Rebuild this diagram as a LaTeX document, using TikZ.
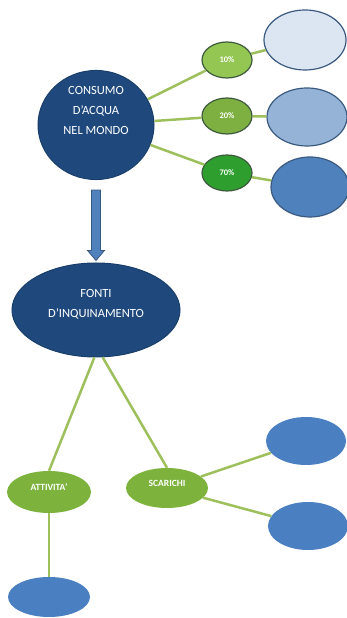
\documentclass[tikz,border=0pt]{standalone}
\usepackage{fontspec}
\setmainfont{Carlito}
\usepackage{tikz}
\usepackage{xcolor}
\usetikzlibrary{shapes.geometric, arrows, calc}
\definecolor{navy}{HTML}{1F497D}
\definecolor{navyline}{HTML}{1A3E6A}
\definecolor{pcta}{HTML}{93C653}
\definecolor{pctb}{HTML}{7DB040}
\definecolor{pctc}{HTML}{2E9F2E}
\definecolor{pctline}{HTML}{3E5A3E}
\definecolor{ovala}{HTML}{DCE6F2}
\definecolor{ovalb}{HTML}{95B3D7}
\definecolor{ovalc}{HTML}{4F81BD}
\definecolor{ovalline}{HTML}{3A5A80}
\definecolor{leafblue}{HTML}{4A7FC1}
\definecolor{grn}{HTML}{7DB33D}
\definecolor{grnline}{HTML}{9DC05C}
\tikzstyle{bigblue} = [ellipse, draw=navyline, line width=1pt, fill=navy, text=white, align=center, inner sep=0, font=\fontsize{12.5}{20}\selectfont]
\tikzstyle{pct} = [ellipse, draw=pctline, line width=1.2pt, minimum width=50pt, minimum height=36pt, inner sep=0, text=white, font=\bfseries\fontsize{8.5}{9}\selectfont]
\tikzstyle{oval} = [ellipse, draw=ovalline, line width=1.2pt, minimum width=80pt, minimum height=58pt]
\tikzstyle{leaf} = [ellipse, fill=leafblue, minimum width=80pt, minimum height=48pt]
\tikzstyle{grnbox} = [ellipse, fill=grn, inner sep=0, text=white, text depth=9pt, font=\bfseries\fontsize{9.5}{10}\selectfont]
\tikzstyle{line} = [draw, grnline, line width=2.5pt]
\tikzstyle{bigarrow} = [draw=ovalline, line width=0.8pt, fill=ovalc, line join=miter]

\begin{document}
\begin{tikzpicture}[x=1pt, y=1pt, node distance=131pt]
\useasboundingbox (0,0) rectangle (347,618);

\node [bigblue, minimum width=116pt, minimum height=94pt, text depth=29pt] (C) at (96,493) {CONSUMO\\D’ACQUA\\NEL MONDO};
\node [pct, fill=pcta, right of=C, yshift=65pt] (P1) {10\%};
\node [pct, fill=pctb, right of=C, yshift=9pt] (P2) {20\%};
\node [pct, fill=pctc, right of=C, yshift=-48pt] (P3) {70\%};
\node [oval, fill=ovala, minimum width=82pt, minimum height=60pt, node distance=78pt, right of=P1, yshift=20pt] (O1) {};
\node [oval, fill=ovalb, node distance=80pt, right of=P2, yshift=-1pt] (O2) {};
\node [oval, fill=ovalc, minimum width=78pt, minimum height=60pt, node distance=83pt, right of=P3, yshift=-14pt] (O3) {};

\node [bigblue, minimum width=168pt, minimum height=94pt, text depth=14pt, node distance=185pt, below of=C] (F) {FONTI\\D’INQUINAMENTO};
\node [grnbox, minimum width=84pt, minimum height=42pt, node distance=182pt, below of=F, xshift=-47pt] (A) {ATTIVITA’};
\node [grnbox, minimum width=82pt, minimum height=40pt, node distance=178pt, below of=F, xshift=71pt] (S) {SCARICHI};
\node [leaf, node distance=139pt, right of=S, yshift=47pt] (S1) {};
\node [leaf, node distance=141pt, right of=S, yshift=-38pt] (S2) {};
\node [leaf, minimum width=82pt, minimum height=40pt, node distance=105pt, below of=A] (A1) {};

\path [line] (C) -- (P1);
\path [line] (C) -- (P2);
\path [line] (C) -- (P3);
\path [line] (P1) -- (O1);
\path [line] (P2) -- (O2);
\path [line] (P3) -- (O3);
\path [line] (F.268) -- (A.north);
\path [line] (F.278) -- (S.north);
\path [line] (S) -- (S1);
\path [line] (S) -- (S2);
\path [line] (A) -- (A1);

% freccia larga
\coordinate (a) at ($(C.south)+(0,-10)$);
\coordinate (t) at ($(F.north)+(0,2)$);
\path [bigarrow] ($(a)+(-4.5,0)$) -- ($(t)+(-4.5,10)$) -- ($(t)+(-8.5,10)$) -- (t) -- ($(t)+(8.5,10)$) -- ($(t)+(4.5,10)$) -- ($(a)+(4.5,0)$) -- cycle;

\end{tikzpicture}
\end{document}
